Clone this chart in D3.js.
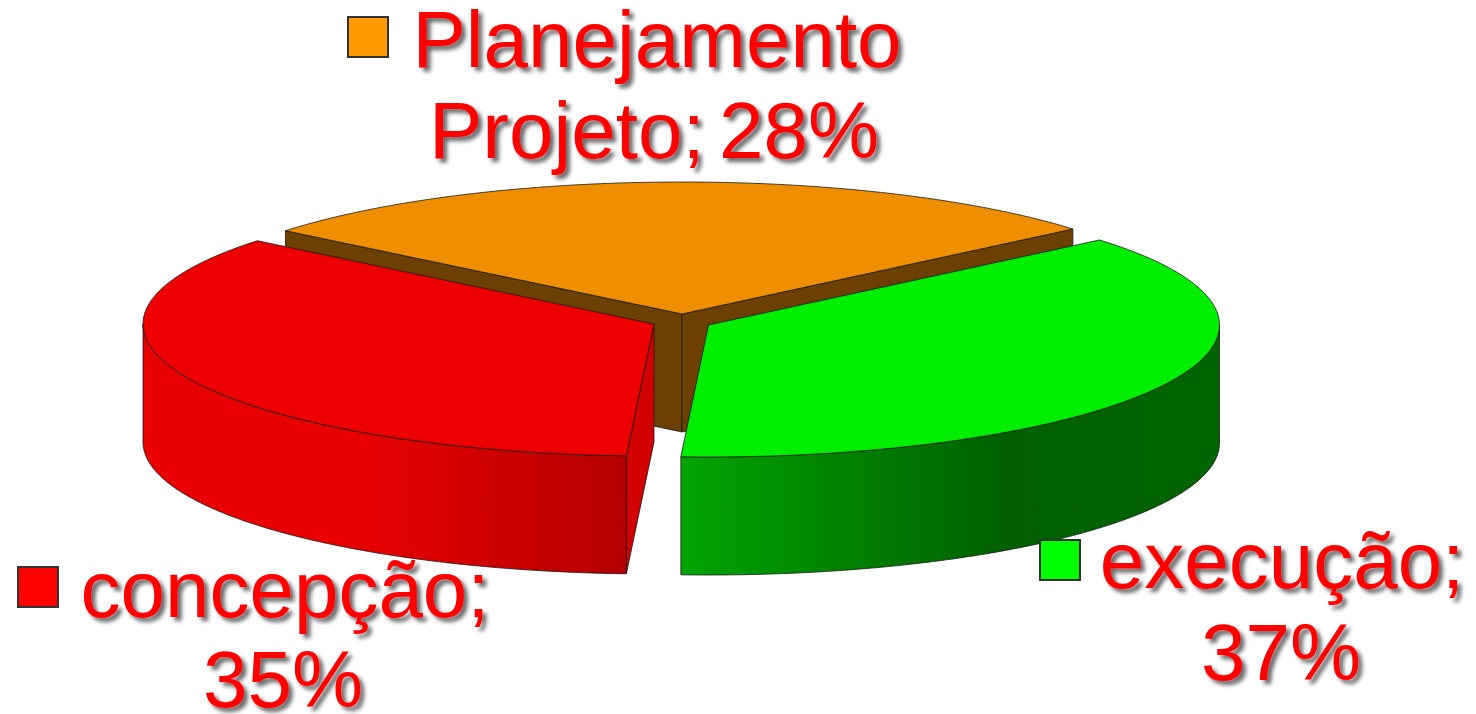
<!DOCTYPE html>
<html>
<head>
<meta charset="utf-8">
<script src="https://d3js.org/d3.v7.min.js"></script>
<style>
  html, body { margin: 0; padding: 0; background: #fff; overflow: hidden; }
  svg { display: block; filter: blur(0.45px); }
  text { font-family: "Liberation Sans", Arial, sans-serif; font-size: 80px; fill: #ff0000; text-anchor: middle; }
</style>
</head>
<body>
<svg width="1476" height="714"></svg>
<script>
// values as printed on the chart, clockwise from the back slice
const categories = ["Planejamento Projeto", "execução", "concepção"];
const shares = [28, 37, 35];
const labelLines = [["Planejamento", "Projeto; 28%"], ["execução;", "37%"], ["concepção;", "35%"]];

const keyColors = ["#ff9900", "#00ff00", "#ff0000"];
const topColors = ["#ee8e00", "#00ee00", "#ee0000"];
const wallColors = ["#6b4000", "#006b00", "#d20000"];

// where each exploded slice sits, and its label lines [x, baseline]
const centers = [[682, 314], [708.5, 325], [654, 324]];
const labelPos = [
  [[657, 67], [654, 158]],
  [[1282, 588], [1281, 680]],
  [[285, 617], [283, 707]]
];
const keyPos = [[348, 17], [1040, 540], [18, 567]];

const rx = 511, ry = 132, depth = 118;

const svg = d3.select("svg");
const defs = svg.append("defs");

const shadow = defs.append("filter").attr("id", "shadow")
  .attr("x", "-5%").attr("y", "-10%").attr("width", "110%").attr("height", "125%");
shadow.append("feDropShadow")
  .attr("dx", 4).attr("dy", 4).attr("stdDeviation", 2.2)
  .attr("flood-color", "#000").attr("flood-opacity", 0.6);

function rimGradient(id, x1, x2, stops) {
  const g = defs.append("linearGradient").attr("id", id)
    .attr("gradientUnits", "userSpaceOnUse")
    .attr("x1", x1).attr("x2", x2).attr("y1", 0).attr("y2", 0);
  stops.forEach(s => g.append("stop").attr("offset", s[0]).attr("stop-color", s[1]));
}
rimGradient("rim1", 680, 1220, [[0, "#00a400"], [0.6, "#006000"], [1, "#006400"]]);
rimGradient("rim2", 143, 626, [[0, "#e80000"], [0.45, "#e80000"], [1, "#b40000"]]);

// start so the back slice is centred on the far side, turned a touch to the left
const start = -Math.PI * shares[0] / 100 - 0.0087;
const arcs = d3.pie().sort(null).startAngle(start).endAngle(start + 2 * Math.PI)(shares);

const line = d3.line();
const project = (c, a, dz = 0) => [c[0] + rx * Math.sin(a), c[1] - ry * Math.cos(a) + dz];

function sweep(c, a0, a1, dz) {
  const n = Math.ceil(Math.abs(a1 - a0) / 0.01);
  return d3.range(n + 1).map(i => project(c, a0 + (a1 - a0) * i / n, dz));
}

function face(points, fill) {
  svg.append("path")
    .attr("d", line(points) + "Z")
    .attr("fill", fill)
    .attr("stroke", "#1a1a1a")
    .attr("stroke-width", 0.8)
    .attr("stroke-linejoin", "round");
}

// back slice first, then the two front ones over it
arcs.forEach((d, i) => {
  const c = centers[i];
  const below = p => [p[0], p[1] + depth];

  if (i === 0) {
    // both cut faces of the back slice show
    [d.startAngle, d.endAngle].forEach(a => {
      const p = project(c, a);
      face([c, p, below(p), below(c)], wallColors[0]);
    });
  }
  if (i === 2) {
    // only the right cut face of the red slice shows
    const p = project(c, d.startAngle);
    face([c, p, below(p), below(c)], wallColors[2]);
  }
  if (i > 0) {
    // outer rim, front half only
    const a0 = Math.max(d.startAngle, Math.PI / 2);
    const a1 = Math.min(d.endAngle, 3 * Math.PI / 2);
    const upper = sweep(c, a0, a1, 0);
    const lower = sweep(c, a1, a0, depth);
    face(upper.concat(lower), "url(#rim" + i + ")");
  }
  face([c].concat(sweep(c, d.startAngle, d.endAngle, 0)), topColors[i]);
});

// legend keys and labels
categories.forEach((name, i) => {
  svg.append("rect")
    .attr("x", keyPos[i][0]).attr("y", keyPos[i][1])
    .attr("width", 40).attr("height", 40)
    .attr("fill", keyColors[i])
    .attr("stroke", "#333").attr("stroke-width", 2);

  const label = svg.append("text").attr("filter", "url(#shadow)");
  labelLines[i].forEach((t, j) => {
    label.append("tspan")
      .attr("x", labelPos[i][j][0])
      .attr("y", labelPos[i][j][1])
      .attr("word-spacing", t.includes(" ") ? -8 : null)
      .text(t);
  });
});
</script>
</body>
</html>
